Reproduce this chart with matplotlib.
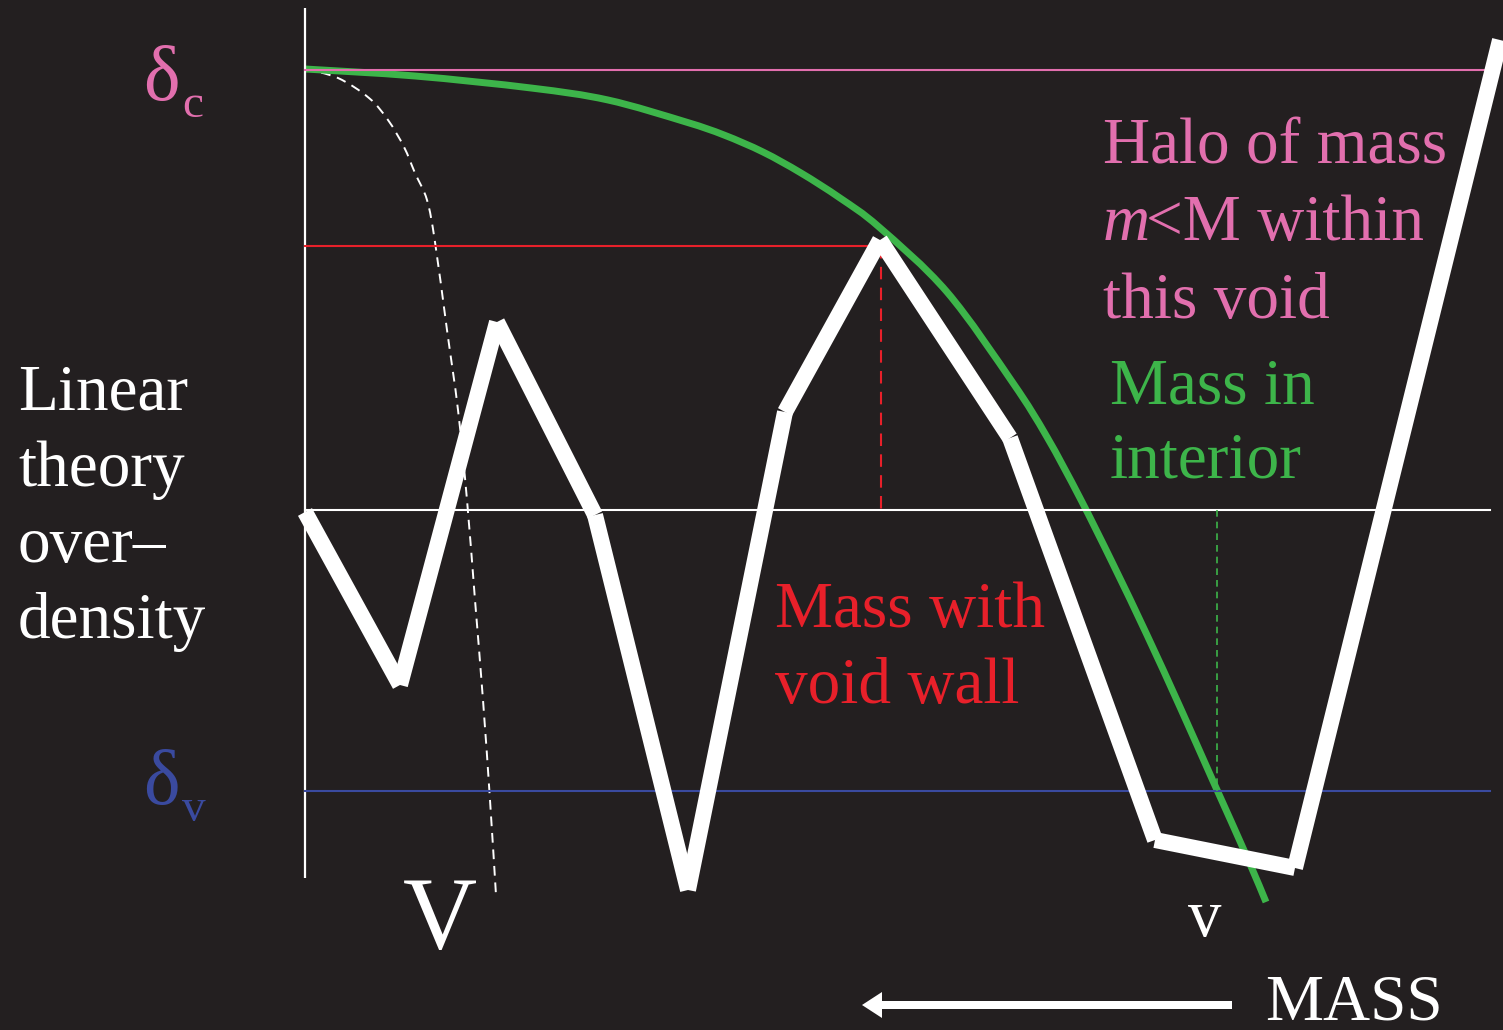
import matplotlib
matplotlib.use("Agg")
import matplotlib.pyplot as plt
from matplotlib.patches import FancyArrow, PathPatch
from matplotlib.path import Path

# Canvas units: x grows to the right, y grows downward (0..1030)
W, H = 1503, 1030
BG = "#231f20"
PINK = "#e26fae"
RED = "#e8202a"
BLUE = "#3a4a9f"
GREEN = "#3db54a"
WHITE = "#ffffff"

# Random walk of linear-theory overdensity against smoothing mass
walk_x = [305, 400, 497, 595, 688, 785, 880, 1010, 1155, 1295, 1500]
walk_y = [512, 685, 322, 515, 890, 412, 240, 438, 840, 868, 40]

# Barrier curve for mass in interior (green)
green_x = [305, 415, 531, 608, 686, 724, 763, 801, 840, 879, 947, 1013, 1047,
           1080, 1113, 1147, 1180, 1213, 1247, 1266]
green_y = [69, 76, 88, 100, 122, 135, 152, 173, 198, 227, 292, 383, 437,
           498, 564, 635, 707, 781, 857, 902]

# Dashed white curve
dash_x = [305, 338, 369, 388, 404, 415, 427, 435, 447, 458, 467, 475, 483, 490, 496]
dash_y = [69, 78, 98, 120, 147, 173, 200, 242, 330, 410, 500, 600, 700, 800, 895]

# Reference levels
axis_x = 305
level_zero = 510
level_c = 70
level_v = 791
level_wall = 246
wall_x = 881
interior_x = 1217


def smooth_path(xs, ys):
    """Cubic Bezier path through the given points (Catmull-Rom tangents)."""
    pts = list(zip(xs, ys))
    verts = [pts[0]]
    codes = [Path.MOVETO]
    n = len(pts)
    for i in range(n - 1):
        p0 = pts[max(i - 1, 0)]
        p1 = pts[i]
        p2 = pts[i + 1]
        p3 = pts[min(i + 2, n - 1)]
        c1 = (p1[0] + (p2[0] - p0[0]) / 6, p1[1] + (p2[1] - p0[1]) / 6)
        c2 = (p2[0] - (p3[0] - p1[0]) / 6, p2[1] - (p3[1] - p1[1]) / 6)
        verts += [c1, c2, p2]
        codes += [Path.CURVE4] * 3
    return Path(verts, codes)


fig = plt.figure(figsize=(W / 100, H / 100), dpi=100, facecolor=BG)
ax = fig.add_axes([0, 0, 1, 1])
ax.set_facecolor(BG)
ax.set_xlim(0, W)
ax.set_ylim(H, 0)
ax.axis("off")

serif = ["Liberation Serif", "DejaVu Serif"]

# Axes lines
ax.plot([axis_x, axis_x], [8, 878], color=WHITE, lw=1.6, solid_capstyle="butt")
ax.plot([axis_x, 1490], [level_zero, level_zero], color=WHITE, lw=1.5)
ax.plot([axis_x, 1497], [level_c, level_c], color=PINK, lw=1.5)
ax.plot([axis_x, 1490], [level_v, level_v], color=BLUE, lw=1.5)
ax.plot([axis_x, 870], [level_wall, level_wall], color=RED, lw=1.5)
ax.plot([wall_x, wall_x], [level_wall, level_zero], color=RED, lw=1.5, ls=(0, (6, 4)))
ax.plot([interior_x, interior_x], [level_zero, level_v], color=GREEN, lw=1.2, ls=(0, (4, 3)))

# Dashed white curve
ax.add_patch(PathPatch(smooth_path(dash_x, dash_y), fill=False, edgecolor=WHITE,
                       lw=1.4, ls=(0, (5, 3.5))))

# Random walk, one straight stroke per step
for i in range(len(walk_x) - 1):
    ax.plot(walk_x[i:i + 2], walk_y[i:i + 2], color=WHITE, lw=11.5,
            solid_capstyle="butt")

# Green barrier curve
ax.add_patch(PathPatch(smooth_path(green_x, green_y), fill=False, edgecolor=GREEN,
                       lw=5, capstyle="butt"))

# Level labels
ax.text(143, 100, "δ", color=PINK, fontsize=56, family=serif, va="baseline")
ax.text(182, 117, "c", color=PINK, fontsize=34, family=serif, va="baseline")
ax.text(143, 804, "δ", color=BLUE, fontsize=56, family=serif, va="baseline")
ax.text(182, 821, "v", color=BLUE, fontsize=34, family=serif, va="baseline")

# Y-axis description
for i, s in enumerate(["Linear", "theory", "over\u2013", "density"]):
    ax.text(18, 410 + i * 76, s, color=WHITE, fontsize=47, family=serif, va="baseline")

# Halo annotation
ax.text(1103, 163, "Halo of mass", color=PINK, fontsize=47, family=serif, va="baseline")
ax.text(1103, 240, "m", color=PINK, fontsize=47, family=serif, style="italic", va="baseline")
ax.text(1146, 240, "<M within", color=PINK, fontsize=47, family=serif, va="baseline")
ax.text(1103, 318, "this void", color=PINK, fontsize=47, family=serif, va="baseline")

# Interior annotation
ax.text(1110, 403, "Mass in", color=GREEN, fontsize=47, family=serif, va="baseline")
ax.text(1110, 478, "interior", color=GREEN, fontsize=47, family=serif, va="baseline")

# Wall annotation
ax.text(775, 627, "Mass with", color=RED, fontsize=47, family=serif, va="baseline")
ax.text(775, 703, "void wall", color=RED, fontsize=47, family=serif, va="baseline")

# Void sizes
ax.text(440, 948, "V", color=WHITE, fontsize=74, family=serif, ha="center", va="baseline")
ax.text(1205, 936, "v", color=WHITE, fontsize=48, family=serif, ha="center", va="baseline")

# Mass direction
ax.text(1265, 1019, "MASS", color=WHITE, fontsize=47, family=serif, va="baseline")
ax.add_patch(FancyArrow(1232, 1005, -350, 0, width=8, head_width=26, head_length=20,
                        length_includes_head=False, color=WHITE, lw=0))

fig.savefig("out.png", dpi=100, facecolor=BG)
